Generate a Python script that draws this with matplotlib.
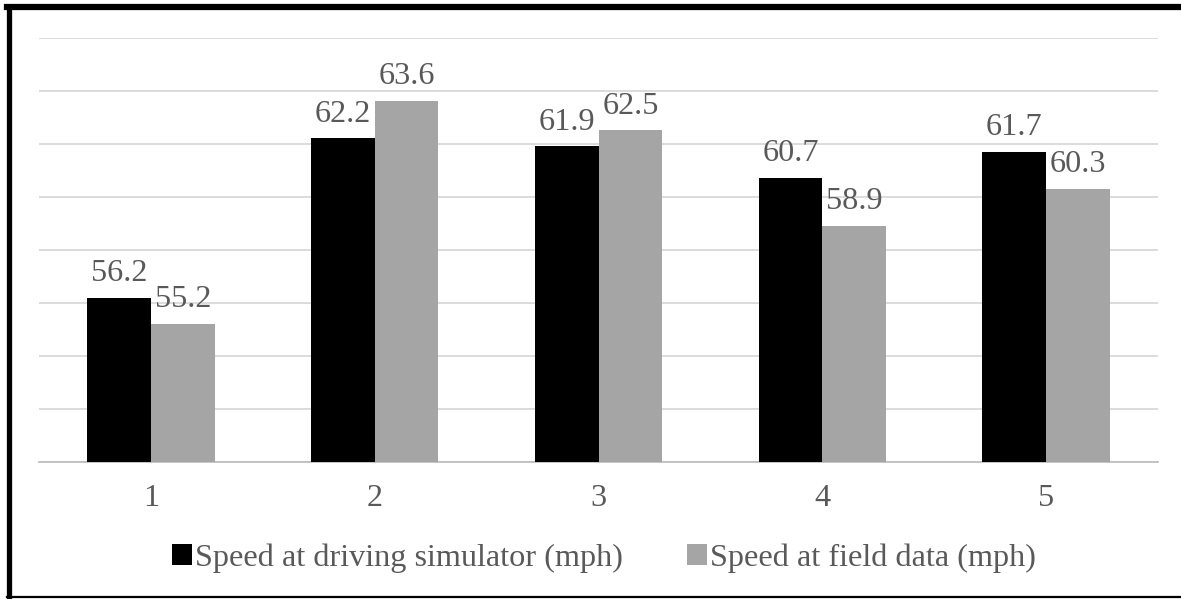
import numpy as np
import matplotlib
matplotlib.use('Agg')
import matplotlib.pyplot as plt
from matplotlib.lines import Line2D

categories = ['1', '2', '3', '4', '5']
speed_sim = [56.2, 62.2, 61.9, 60.7, 61.7]
speed_field = [55.2, 63.6, 62.5, 58.9, 60.3]
series_names = ['Speed at driving simulator (mph)', 'Speed at field data (mph)']

plt.rcParams['font.family'] = ['Liberation Serif', 'DejaVu Serif']
txt = '#595959'
fs = 23.2

fig = plt.figure(figsize=(11.81, 5.99), dpi=100)
ax = fig.add_axes([39/1181, 137/599, (1158-39)/1181, (462-37.5)/599])

x = np.arange(len(categories))
w = 0.285
b0 = ax.bar(x - w/2, np.array(speed_sim) - 50, w, bottom=50, color='#000000', label=series_names[0], zorder=3)
b1 = ax.bar(x + w/2, np.array(speed_field) - 50, w, bottom=50, color='#a5a5a5', label=series_names[1], zorder=3)

for bars, vals in [(b0, speed_sim), (b1, speed_field)]:
    for r, v in zip(bars, vals):
        ax.annotate(f'{v:.1f}', (r.get_x() + r.get_width()/2, v), xytext=(0, 7),
                    textcoords='offset points', ha='center', va='bottom', fontsize=fs, color=txt)

ax.set_xlim(-0.5, len(categories) - 0.5)
ax.set_ylim(50, 66)
ax.set_yticks(np.arange(50, 67, 2))
ax.yaxis.grid(True, color='#d9d9d9', linewidth=1.3, zorder=0)
ax.tick_params(axis='y', left=False, labelleft=False)
ax.tick_params(axis='x', length=0, labelsize=fs, labelcolor=txt, pad=16)
ax.set_xticks(x)
ax.set_xticklabels(categories)
for s in ['top', 'right', 'left']:
    ax.spines[s].set_visible(False)
ax.spines['bottom'].set_color('#bfbfbf')
ax.spines['bottom'].set_linewidth(1.3)

leg = fig.legend(handles=[b0, b1], labels=series_names, loc='center', bbox_to_anchor=(604/1181, 1 - 558/599),
                 ncol=2, frameon=False, fontsize=fs, handlelength=0.6, handleheight=0.6,
                 handletextpad=0.1, columnspacing=2.0, labelcolor=txt)

# thick frame like the pasted chart
fig.add_artist(Line2D([9.5/1181, 9.5/1181], [1 - 7/599, 1 - 597/599], color='black', linewidth=3.8, transform=fig.transFigure))
fig.add_artist(Line2D([7/1181, 1.0], [1 - 7/599, 1 - 7/599], color='black', linewidth=4.5, transform=fig.transFigure))
fig.add_artist(Line2D([7/1181, 1.0], [1 - 597/599, 1 - 597/599], color='black', linewidth=1.6, transform=fig.transFigure))

fig.savefig('out.png', dpi=100)
